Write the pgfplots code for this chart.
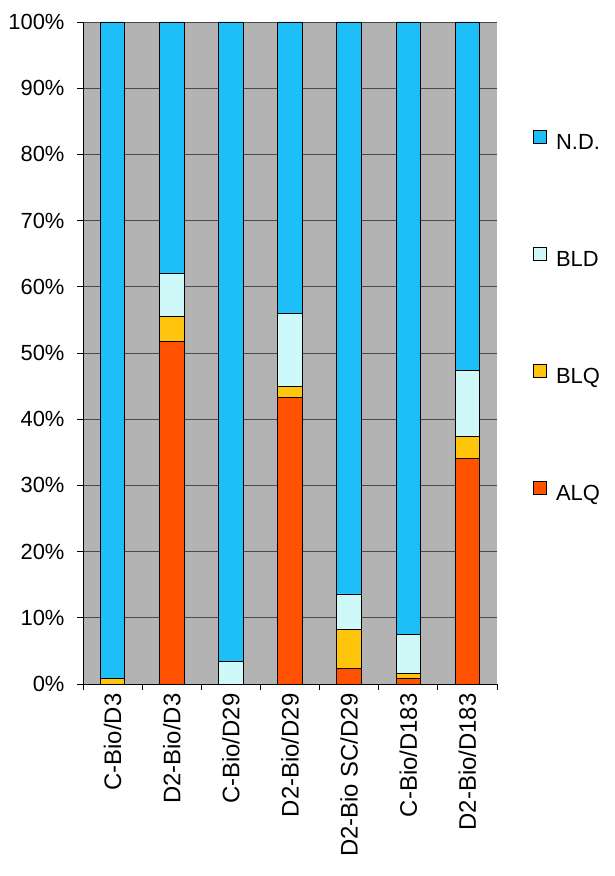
\documentclass[border=0pt]{standalone}
\usepackage{pgfplots}
\pgfplotsset{compat=1.18}
\usepackage{fontspec}
\setmainfont{Liberation Sans}
\definecolor{cND}{HTML}{1EBEF8}
\definecolor{cBLD}{HTML}{CFF9F9}
\definecolor{cBLQ}{HTML}{FFC40C}
\definecolor{cALQ}{HTML}{FF5100}
\definecolor{bggray}{HTML}{B3B3B3}
\definecolor{gridc}{HTML}{4A4A4A}
\begin{document}
\begin{tikzpicture}[x=1bp,y=1bp]
\path[use as bounding box] (0,0) rectangle (615,876);
\begin{axis}[
  at={(83bp,192bp)}, anchor=south west,
  scale only axis, width=414bp, height=662bp,
  ybar stacked, bar width=24.5bp,
  xmin=-0.5, xmax=6.5, ymin=0, ymax=100,
  axis background/.style={fill=bggray},
  axis x line*=bottom, axis y line*=left,
  axis line style={black, line width=0.9bp},
  ytick={0,10,...,100},
  yticklabel={\pgfmathprintnumber{\tick}\%},
  ymajorgrids, grid style={gridc, line width=0.8bp},
  xtick={0,...,6},
  xticklabels={C-Bio/D3,D2-Bio/D3,C-Bio/D29,D2-Bio/D29,D2-Bio SC/D29,C-Bio/D183,D2-Bio/D183},
  major x tick style={draw=none},
  minor xtick={-0.5,0.5,...,6.5},
  minor tick length=6bp,
  major tick length=6bp,
  tick align=outside,
  tick style={black, line width=0.8bp},
  x tick label style={rotate=90, anchor=east, font=\fontsize{24}{28}\selectfont},
  y tick label style={font=\fontsize{22}{26}\selectfont, xshift=-9bp},
  /pgf/number format/assume math mode=true,
  every axis plot/.append style={draw=black, line width=0.9bp},
  clip=false,
  reverse legend,
  legend style={at={(rel axis cs:1.087,0.8375)}, anchor=north west, draw=none, fill=none,
    inner sep=0pt, row sep=93.5bp, column sep=9bp,
    nodes={font=\fontsize{22}{26}\selectfont, inner sep=0pt, text height=16bp, text depth=4bp}},
  legend cell align=left,
  legend image code/.code={\draw[#1, draw=black, line width=0.9bp] (0bp,0bp) rectangle (13bp,13bp);},
]
\addplot[fill=cALQ] coordinates {(0,0) (1,51.7) (2,0) (3,43.3) (4,2.4) (5,0.8) (6,34.1)};
\addplot[fill=cBLQ] coordinates {(0,0.8) (1,3.8) (2,0) (3,1.6) (4,5.9) (5,0.8) (6,3.3)};
\addplot[fill=cBLD] coordinates {(0,0) (1,6.5) (2,3.4) (3,11.0) (4,5.3) (5,5.95) (6,10.0)};
\addplot[fill=cND] coordinates {(0,99.2) (1,38.0) (2,96.6) (3,44.1) (4,86.4) (5,92.45) (6,52.6)};
\legend{ALQ,BLQ,BLD,N.D.}
\end{axis}
\end{tikzpicture}
\end{document}
